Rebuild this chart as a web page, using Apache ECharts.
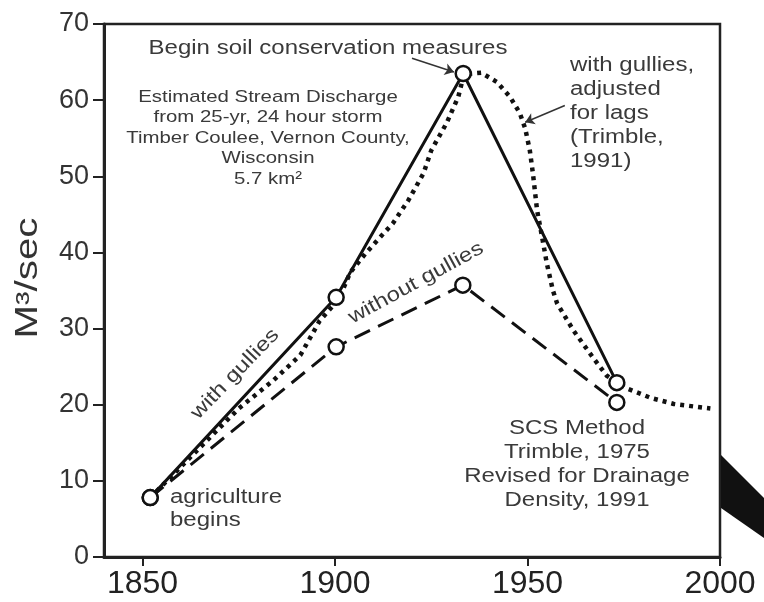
<!DOCTYPE html>
<html>
<head>
<meta charset="utf-8">
<script src="https://cdn.jsdelivr.net/npm/echarts@6/dist/echarts.min.js"></script>
<style>
  html, body { margin: 0; padding: 0; background: #fff; }
  #main { width: 764px; height: 602px; }
</style>
</head>
<body>
<div id="main"></div>
<script>
// values (year, M3/sec)
var withGullies = [[1852, 7.8], [1900.3, 34.1], [1933.3, 63.5], [1973.2, 22.9]];
var withoutGullies = [[1852, 7.8], [1900.3, 27.6], [1933.2, 35.7], [1973.2, 20.3]];
var adjustedForLags = [
  [1852, 7.8], [1875, 19.5], [1884, 23.2], [1891, 26.5], [1896, 31.0], [1901, 33.9],
  [1904, 37.4], [1908, 39.9], [1911, 41.6], [1915, 43.8], [1919, 46.8], [1923, 50.4],
  [1925, 53.4], [1929, 57.0], [1932, 60.4], [1933.5, 63.4], [1938, 63.6], [1942, 62.4],
  [1945.5, 60.4], [1948, 58.3], [1949.4, 56.3], [1950.6, 53.4], [1951.4, 50.4],
  [1952.5, 45.5], [1953.8, 42.0], [1955, 38.6], [1956.6, 35.0], [1957.7, 33.3],
  [1962, 29.7], [1967, 26.2], [1970.6, 23.8], [1976, 22.1], [1982, 20.9],
  [1988, 20.1], [1997.5, 19.5]
];
var xTicks = [1850, 1900, 1950, 2000];
var arrows = [
  [[1920.0, 65.5], [1930.9, 63.7]],
  [[1959.7, 59.3], [1949.4, 57.1]]
];

var myChart = echarts.init(document.getElementById('main'));
var FONT = 'Liberation Sans';
var TXT = '#3a3a3a';

var circle = {
  symbol: 'circle',
  symbolSize: 15,
  itemStyle: { color: '#fff', borderColor: '#111', borderWidth: 2.5 }
};

// the lettering in the source is drawn a bit wide, so stretch it
function note(x, y, text, size, lh, align, valign, rot) {
  return {
    type: 'text', x: x, y: y, scaleX: 1.2, rotation: rot || 0,
    style: {
      text: text, fontSize: size, lineHeight: lh, fontFamily: FONT, fill: TXT,
      textAlign: align, textVerticalAlign: valign
    }
  };
}

var option = {
  backgroundColor: '#fff',
  animation: false,
  grid: {
    left: 104, right: 44, top: 24, bottom: 45,
    show: true, borderColor: '#222', borderWidth: 2.5, backgroundColor: 'transparent'
  },
  xAxis: {
    type: 'value',
    min: 1840,
    max: 2000,
    splitLine: { show: false },
    axisLine: { lineStyle: { color: '#222', width: 3 } },
    axisTick: { customValues: xTicks, length: 9, lineStyle: { color: '#222', width: 2 } },
    axisLabel: {
      customValues: xTicks, margin: 11,
      formatter: function (v) { return String(v); },
      color: '#222', fontSize: 32, fontFamily: FONT
    }
  },
  yAxis: {
    type: 'value',
    min: 0,
    max: 70,
    interval: 10,
    splitLine: { show: false },
    axisLine: { lineStyle: { color: '#222', width: 3 } },
    axisTick: { length: 11, lineStyle: { color: '#222', width: 2 } },
    axisLabel: { margin: 15, color: '#333', fontSize: 27, fontFamily: FONT }
  },
  series: [
    {
      name: 'with gullies, adjusted for lags',
      type: 'line',
      data: adjustedForLags,
      showSymbol: false,
      smooth: false,
      lineStyle: { color: '#111', width: 4.5, type: [4, 5], join: 'round' },
      z: 2
    },
    Object.assign({
      name: 'without gullies',
      type: 'line',
      data: withoutGullies,
      lineStyle: { color: '#111', width: 3, type: [17, 9] },
      z: 3
    }, circle),
    Object.assign({
      name: 'with gullies',
      type: 'line',
      data: withGullies,
      lineStyle: { color: '#111', width: 3 },
      z: 4
    }, circle),
    {
      type: 'lines',
      coordinateSystem: 'cartesian2d',
      symbol: ['none', 'arrow'],
      symbolSize: 9,
      lineStyle: { color: '#333', width: 1.5, opacity: 1 },
      data: arrows.map(function (a) { return { coords: a }; }),
      z: 5
    }
  ],
  graphic: [
    {
      type: 'text', x: 28, y: 278, rotation: Math.PI / 2, scaleX: 1.3,
      style: { text: 'M³/sec', fontSize: 31, fontFamily: FONT, fill: '#333', textAlign: 'center', textVerticalAlign: 'middle' }
    },
    note(328, 48, 'Begin soil conservation measures', 20, 24, 'center', 'middle'),
    note(268, 87, 'Estimated Stream Discharge\nfrom 25-yr, 24 hour storm\nTimber Coulee, Vernon County,\nWisconsin\n5.7 km²', 17, 20.5, 'center', 'top'),
    note(570, 53, 'with gullies,\nadjusted\nfor lags\n(Trimble,\n1991)', 20, 24, 'left', 'top'),
    note(577, 416, 'SCS Method\nTrimble, 1975\nRevised for Drainage\nDensity, 1991', 20, 24, 'center', 'top'),
    note(170, 486, 'agriculture\nbegins', 20, 23, 'left', 'top'),
    note(235, 374, 'with gullies', 20, 24, 'center', 'middle', 46 * Math.PI / 180),
    note(416, 283, 'without gullies', 20, 24, 'center', 'middle', 28.5 * Math.PI / 180),
    // dark band cut off at the right edge of the figure
    {
      type: 'polygon',
      shape: { points: [[721, 455], [764, 498], [764, 538], [721, 508]] },
      style: { fill: '#111' }
    }
  ]
};

myChart.setOption(option, true);
</script>
</body>
</html>
